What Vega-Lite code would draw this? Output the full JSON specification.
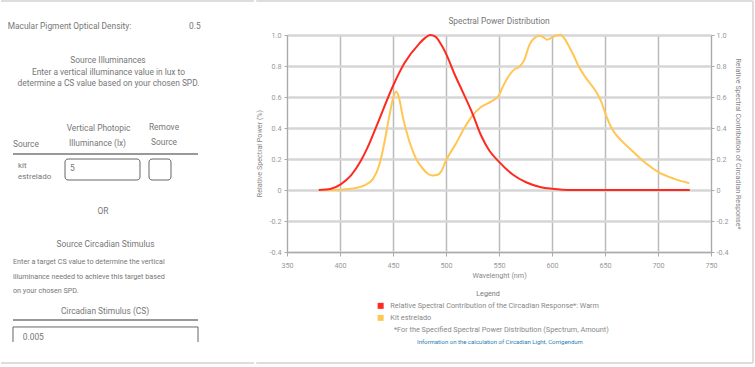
{
  "$schema": "https://vega.github.io/schema/vega-lite/v6.json",
  "background": "white",
  "padding": 0,
  "spacing": 0,
  "config": {
    "view": {"stroke": null},
    "font": "Roboto",
    "axis": {"labelFont": "Roboto", "titleFont": "Roboto", "labelFontSize": 7.2, "labelColor": "#999", "titleFontSize": 7.2, "titleColor": "#888", "titleFontWeight": "normal", "domainColor": "#aaa", "tickColor": "#aaa"}
  },
  "hconcat": [
    {
      "width": 253,
      "height": 330,
      "layer": [
        {
          "data": {"values": [
            {"c1": 0, "c2": 100, "r1": -10.30, "r2": -10.30},
            {"c1": 0, "c2": 100, "r1": 99.39, "r2": 99.39}
          ]},
          "mark": {"type": "rule", "color": "#dddddd", "strokeWidth": 2},
          "encoding": {
            "x": {"field": "c1", "type": "quantitative", "scale": {"domain": [0, 100], "nice": false, "zero": false}, "axis": null},
            "x2": {"field": "c2"},
            "y": {"field": "r1", "type": "quantitative", "scale": {"domain": [0, 100], "nice": false, "zero": false, "reverse": true}, "axis": null},
            "y2": {"field": "r2"}
          }
        },
        {
          "data": {"values": [
            {"c1": 4.74, "c2": 77.87, "r1": 36.06, "r2": 36.06},
            {"c1": 4.74, "c2": 77.87, "r1": 86.36, "r2": 86.36}
          ]},
          "mark": {"type": "rule", "color": "#777777", "strokeWidth": 1.5},
          "encoding": {
            "x": {"field": "c1", "type": "quantitative", "scale": {"domain": [0, 100], "nice": false, "zero": false}, "axis": null},
            "x2": {"field": "c2"},
            "y": {"field": "r1", "type": "quantitative", "scale": {"domain": [0, 100], "nice": false, "zero": false, "reverse": true}, "axis": null},
            "y2": {"field": "r2"}
          }
        },
        {
          "data": {"values": [
            {"c1": 4.74, "c2": 77.87, "r1": 88.48, "r2": 88.48},
            {"c1": 4.74, "c2": 4.74, "r1": 88.48, "r2": 93.03},
            {"c1": 77.87, "c2": 77.87, "r1": 88.48, "r2": 93.03}
          ]},
          "mark": {"type": "rule", "color": "#666666", "strokeWidth": 1},
          "encoding": {
            "x": {"field": "c1", "type": "quantitative", "scale": {"domain": [0, 100], "nice": false, "zero": false}, "axis": null},
            "x2": {"field": "c2"},
            "y": {"field": "r1", "type": "quantitative", "scale": {"domain": [0, 100], "nice": false, "zero": false, "reverse": true}, "axis": null},
            "y2": {"field": "r2"}
          }
        },
        {
          "data": {"values": [
            {"c1": 25.30, "c2": 54.94, "r1": 37.58, "r2": 43.94},
            {"c1": 58.50, "c2": 67.19, "r1": 37.58, "r2": 43.94}
          ]},
          "mark": {"type": "rect", "fill": "white", "stroke": "#666666", "strokeWidth": 1, "cornerRadius": 3},
          "encoding": {
            "x": {"field": "c1", "type": "quantitative", "scale": {"domain": [0, 100], "nice": false, "zero": false}, "axis": null},
            "x2": {"field": "c2"},
            "y": {"field": "r1", "type": "quantitative", "scale": {"domain": [0, 100], "nice": false, "zero": false, "reverse": true}, "axis": null},
            "y2": {"field": "r2"}
          }
        },
        {
          "data": {"values": [
            {"t": "Macular Pigment Optical Density:", "c": 2.65, "r": -2.73},
            {"t": "0.5", "c": 74.3, "r": -2.73},
            {"t": "Source", "c": 4.74, "r": 33.03},
            {"t": "5", "c": 27.27, "r": 40.30},
            {"t": "0.005", "c": 8.6, "r": 91.52}
          ]},
          "mark": {"type": "text", "align": "left", "baseline": "middle", "fontSize": 8.4, "color": "#777"},
          "encoding": {
            "x": {"field": "c", "type": "quantitative", "scale": {"domain": [0, 100], "nice": false, "zero": false}, "axis": null},
            "y": {"field": "r", "type": "quantitative", "scale": {"domain": [0, 100], "nice": false, "zero": false, "reverse": true}, "axis": null},
            "text": {"field": "t"}
          }
        },
        {
          "data": {"values": [
            {"t": "Source Illuminances", "c": 42.29, "r": 7.58},
            {"t": "Enter a vertical illuminance value in lux to", "c": 42.49, "r": 11.21},
            {"t": "determine a CS value based on your chosen SPD.", "c": 42.49, "r": 14.55},
            {"t": "Vertical Photopic", "c": 38.54, "r": 28.18},
            {"t": "Illuminance (lx)", "c": 38.14, "r": 32.73},
            {"t": "Remove", "c": 64.43, "r": 27.88},
            {"t": "Source", "c": 64.43, "r": 32.42},
            {"t": "OR", "c": 40.32, "r": 53.33},
            {"t": "Source Circadian Stimulus", "c": 41.30, "r": 63.33},
            {"t": "Circadian Stimulus (CS)", "c": 41.11, "r": 83.64}
          ]},
          "mark": {"type": "text", "align": "center", "baseline": "middle", "fontSize": 8.4, "color": "#777"},
          "encoding": {
            "x": {"field": "c", "type": "quantitative", "scale": {"domain": [0, 100], "nice": false, "zero": false}, "axis": null},
            "y": {"field": "r", "type": "quantitative", "scale": {"domain": [0, 100], "nice": false, "zero": false, "reverse": true}, "axis": null},
            "text": {"field": "t"}
          }
        },
        {
          "data": {"values": [
            {"t": "kit", "c": 6.72, "r": 39.70},
            {"t": "estrelado", "c": 6.72, "r": 43.03}
          ]},
          "mark": {"type": "text", "align": "left", "baseline": "middle", "fontSize": 8, "color": "#777"},
          "encoding": {
            "x": {"field": "c", "type": "quantitative", "scale": {"domain": [0, 100], "nice": false, "zero": false}, "axis": null},
            "y": {"field": "r", "type": "quantitative", "scale": {"domain": [0, 100], "nice": false, "zero": false, "reverse": true}, "axis": null},
            "text": {"field": "t"}
          }
        },
        {
          "data": {"values": [
            {"t": "Enter a target CS value to determine the vertical", "c": 4.74, "r": 68.79},
            {"t": "illuminance needed to achieve this target based", "c": 4.74, "r": 73.33},
            {"t": "on your chosen SPD.", "c": 4.74, "r": 77.58}
          ]},
          "mark": {"type": "text", "align": "left", "baseline": "middle", "fontSize": 7.2, "color": "#777"},
          "encoding": {
            "x": {"field": "c", "type": "quantitative", "scale": {"domain": [0, 100], "nice": false, "zero": false}, "axis": null},
            "y": {"field": "r", "type": "quantitative", "scale": {"domain": [0, 100], "nice": false, "zero": false, "reverse": true}, "axis": null},
            "text": {"field": "t"}
          }
        }
      ]
    },
    {
      "width": 424,
      "height": 217,
      "layer": [
        {
          "data": {"values": [
            {"wl": 321, "wl2": 789.6, "val": 1.219, "val2": 1.219},
            {"wl": 321, "wl2": 789.6, "val": -1.116, "val2": -1.116},
            {"wl": 789.6, "wl2": 789.6, "val": 1.219, "val2": -1.116}
          ]},
          "mark": {"type": "rule", "color": "#dddddd", "strokeWidth": 2},
          "encoding": {
            "x": {"field": "wl", "type": "quantitative"},
            "x2": {"field": "wl2"},
            "y": {"field": "val", "type": "quantitative", "scale": {"domain": [-0.4, 1], "nice": false, "zero": false}, "axis": null},
            "y2": {"field": "val2"}
          }
        },
        {
          "data": {"values": [
            {"wl": 550, "val": 1.091, "note": "Spectral Power Distribution"}
          ]},
          "mark": {"type": "text", "align": "center", "baseline": "middle", "fontSize": 8.4, "color": "#777"},
          "encoding": {
            "x": {"field": "wl", "type": "quantitative"},
            "y": {"field": "val", "type": "quantitative", "scale": {"domain": [-0.4, 1], "nice": false, "zero": false}, "axis": null},
            "text": {"field": "note"}
          }
        },
        {
          "data": {"values": [
            {"wl": 380, "val": 0}, {"wl": 390, "val": 0}, {"wl": 401, "val": 0.002}, {"wl": 410, "val": 0.008},
            {"wl": 418, "val": 0.018}, {"wl": 423, "val": 0.03}, {"wl": 431, "val": 0.07}, {"wl": 437, "val": 0.16},
            {"wl": 442, "val": 0.31}, {"wl": 446.6, "val": 0.48}, {"wl": 450.4, "val": 0.6}, {"wl": 453, "val": 0.635},
            {"wl": 455.5, "val": 0.6}, {"wl": 459.3, "val": 0.47}, {"wl": 465.6, "val": 0.31}, {"wl": 471.9, "val": 0.2},
            {"wl": 478.2, "val": 0.137}, {"wl": 483, "val": 0.105}, {"wl": 487.6, "val": 0.094}, {"wl": 492, "val": 0.098},
            {"wl": 495.5, "val": 0.12}, {"wl": 500, "val": 0.19}, {"wl": 509.4, "val": 0.3}, {"wl": 517.3, "val": 0.4},
            {"wl": 525, "val": 0.48}, {"wl": 533, "val": 0.535}, {"wl": 542.4, "val": 0.57}, {"wl": 550.3, "val": 0.615},
            {"wl": 553.5, "val": 0.665}, {"wl": 559.7, "val": 0.74}, {"wl": 564, "val": 0.775}, {"wl": 569.2, "val": 0.795},
            {"wl": 573.9, "val": 0.84}, {"wl": 578.6, "val": 0.935}, {"wl": 583.4, "val": 0.98}, {"wl": 588, "val": 0.995},
            {"wl": 592, "val": 0.985}, {"wl": 595.3, "val": 0.97}, {"wl": 599, "val": 0.98}, {"wl": 603, "val": 0.995},
            {"wl": 608, "val": 1.0}, {"wl": 612, "val": 0.975}, {"wl": 615, "val": 0.94}, {"wl": 618, "val": 0.9},
            {"wl": 621, "val": 0.86}, {"wl": 625, "val": 0.8}, {"wl": 632.3, "val": 0.72}, {"wl": 641.7, "val": 0.633},
            {"wl": 646.4, "val": 0.57}, {"wl": 651.1, "val": 0.48}, {"wl": 657.4, "val": 0.385}, {"wl": 665.3, "val": 0.32},
            {"wl": 675.3, "val": 0.255}, {"wl": 687.2, "val": 0.18}, {"wl": 700.4, "val": 0.115}, {"wl": 715.4, "val": 0.072},
            {"wl": 729.5, "val": 0.044}
          ]},
          "transform": [{"calculate": "'Kit estrelado'", "as": "series"}],
          "mark": {"type": "line", "interpolate": "monotone", "strokeWidth": 2},
          "encoding": {
            "x": {"field": "wl", "type": "quantitative", "title": "Wavelenght (nm)",
              "scale": {"domain": [350, 750], "nice": false, "zero": false},
              "axis": {"values": [350, 375, 400, 425, 450, 475, 500, 525, 550, 575, 600, 625, 650, 675, 700, 725, 750], "grid": true, "gridColor": "#bbbbbb", "gridWidth": 1.5, "tickSize": 4, "labelPadding": 5, "labelOverlap": false, "labelFlush": false, "titlePadding": 3}},
            "y": {"field": "val", "type": "quantitative", "title": "Relative Spectral Power (%)",
              "scale": {"domain": [-0.4, 1], "nice": false, "zero": false},
              "axis": {"orient": "left", "values": [-0.4, -0.2, 0, 0.2, 0.4, 0.6, 0.8, 1.0], "labelExpr": "datum.value == 0 ? '0' : replace(format(datum.value, '.1f'), '\u2212', '-')", "grid": true, "gridColor": "#d6d6d6", "gridWidth": 2.5, "tickSize": 3, "labelPadding": 3, "titlePadding": 6, "titleY": 118}},
            "color": {"field": "series", "type": "nominal",
              "scale": {"domain": ["Relative Spectral Contribution of the Circadian Response*: Warm", "Kit estrelado"], "range": ["#ff2a1f", "#ffc652"]},
              "legend": {"orient": "none", "legendX": 376, "legendY": 255, "title": "Legend", "titleAnchor": "middle", "titleFontSize": 7.2, "titleFontWeight": "normal", "titleColor": "#777", "titlePadding": 5, "labelFontSize": 7.3, "labelColor": "#888", "symbolType": "square", "symbolSize": 36, "rowPadding": 4, "padding": 0, "labelLimit": 400, "labelOffset": 6, "direction": "vertical",
                "encode": {"symbols": {"update": {"fill": {"scale": "color", "field": "value"}, "strokeWidth": {"value": 0}}}}}}
          }
        },
        {
          "data": {"values": [
            {"wl": 380, "val": 0}, {"wl": 391.5, "val": 0.008}, {"wl": 400.3, "val": 0.035}, {"wl": 410.4, "val": 0.094},
            {"wl": 419.8, "val": 0.19}, {"wl": 425.5, "val": 0.267}, {"wl": 435.5, "val": 0.43}, {"wl": 450.3, "val": 0.676},
            {"wl": 460.7, "val": 0.817}, {"wl": 475, "val": 0.946}, {"wl": 480, "val": 0.98}, {"wl": 485, "val": 1.0},
            {"wl": 490, "val": 0.99}, {"wl": 495.3, "val": 0.94}, {"wl": 500, "val": 0.88}, {"wl": 507.9, "val": 0.75},
            {"wl": 515.8, "val": 0.633}, {"wl": 525, "val": 0.493}, {"wl": 533, "val": 0.353}, {"wl": 540.8, "val": 0.255},
            {"wl": 550.3, "val": 0.18}, {"wl": 562.9, "val": 0.1}, {"wl": 575.5, "val": 0.05}, {"wl": 589.6, "val": 0.018},
            {"wl": 600, "val": 0.008}, {"wl": 610, "val": 0.002}, {"wl": 620, "val": 0}, {"wl": 730, "val": 0}
          ]},
          "transform": [{"calculate": "'Relative Spectral Contribution of the Circadian Response*: Warm'", "as": "series"}],
          "mark": {"type": "line", "interpolate": "monotone", "strokeWidth": 2},
          "encoding": {
            "x": {"field": "wl", "type": "quantitative"},
            "y": {"field": "val", "type": "quantitative", "title": "Relative Spectral Contribution of Circadian Response*",
              "scale": {"domain": [-0.4, 1], "nice": false, "zero": false},
              "axis": {"orient": "right", "values": [-0.4, -0.2, 0, 0.2, 0.4, 0.6, 0.8, 1.0], "labelExpr": "datum.value == 0 ? '0' : replace(format(datum.value, '.1f'), '\u2212', '-')", "grid": false, "tickSize": 3, "labelPadding": 2, "titlePadding": 6}},
            "color": {"field": "series", "type": "nominal"}
          }
        },
        {
          "data": {"values": [
            {"wl": 450.9, "val": -0.903, "note": "*For the Specified Spectral Power Distribution (Spectrum, Amount)"}
          ]},
          "mark": {"type": "text", "align": "left", "baseline": "middle", "fontSize": 7.3, "color": "#888"},
          "encoding": {
            "x": {"field": "wl", "type": "quantitative"},
            "y": {"field": "val", "type": "quantitative", "scale": {"domain": [-0.4, 1], "nice": false, "zero": false}, "axis": null},
            "text": {"field": "note"}
          }
        },
        {
          "data": {"values": [
            {"wl": 550.9, "val": -0.981, "note": "Information on the calculation of Circadian Light, Corrigendum"}
          ]},
          "mark": {"type": "text", "align": "center", "baseline": "middle", "fontSize": 6, "color": "#2a7db5"},
          "encoding": {
            "x": {"field": "wl", "type": "quantitative"},
            "y": {"field": "val", "type": "quantitative", "scale": {"domain": [-0.4, 1], "nice": false, "zero": false}, "axis": null},
            "text": {"field": "note"}
          }
        }
      ],
      "resolve": {"scale": {"y": "independent"}}
    }
  ]
}
